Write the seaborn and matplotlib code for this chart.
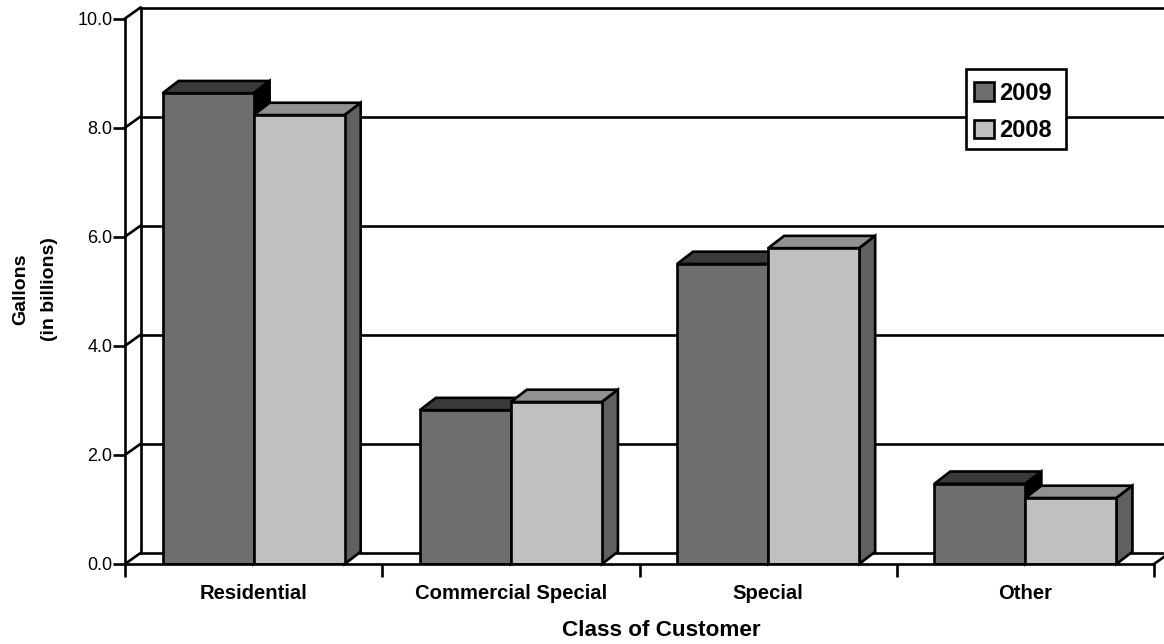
import matplotlib
matplotlib.use("Agg")
import matplotlib.pyplot as plt
import pandas as pd
import seaborn as sns
from matplotlib.patches import Polygon, Rectangle

categories = ["Residential", "Commercial Special", "Special", "Other"]
gallons_2009 = [8.63, 2.82, 5.50, 1.47]
gallons_2008 = [8.23, 2.97, 5.79, 1.21]
y_ticks = [0, 2, 4, 6, 8, 10]

W, H = 1164, 644
FRONT_LEFT, FRONT_RIGHT = 125, 1154
FRONT_TOP, FRONT_BOTTOM = 18.5, 564
WALL_DX_PX, WALL_DY_PX = 15.5, 11
BAR_DX_PX, BAR_DY_PX = 16, 12.3
LW = 1.9

sns.set_theme(style="white", rc={
    "axes.linewidth": LW, "axes.edgecolor": "black", "text.color": "black",
    "xtick.color": "black", "ytick.color": "black", "axes.labelcolor": "black",
})
plt.rcParams["font.family"] = ["Liberation Sans", "DejaVu Sans"]

fig = plt.figure(figsize=(W / 100, H / 100), dpi=100, facecolor="white")
ax = fig.add_axes([
    FRONT_LEFT / W, 1 - FRONT_BOTTOM / H,
    (FRONT_RIGHT - FRONT_LEFT) / W, (FRONT_BOTTOM - FRONT_TOP) / H,
])
ax.patch.set_alpha(0)

df = pd.DataFrame({
    "category": categories * 2,
    "year": ["2009"] * 4 + ["2008"] * 4,
    "gallons": gallons_2009 + gallons_2008,
})
FRONT = {"2009": "#6e6e6e", "2008": "#c0c0c0"}
TOP = {"2009": "#3a3a3a", "2008": "#919191"}
SIDE = {"2009": "#000000", "2008": "#606060"}

sns.barplot(data=df, x="category", y="gallons", hue="year", hue_order=["2009", "2008"],
            palette=FRONT, width=0.708, gap=0, saturation=1, errorbar=None,
            edgecolor="black", linewidth=LW, ax=ax)

ax.set_xlim(-0.5, 3.5)
ax.set_ylim(0, 10)
x_per_px = 4 / (FRONT_RIGHT - FRONT_LEFT)
y_per_px = 10 / (FRONT_BOTTOM - FRONT_TOP)
dx, dy = WALL_DX_PX * x_per_px, WALL_DY_PX * y_per_px
bar_dx, bar_dy = BAR_DX_PX * x_per_px, BAR_DY_PX * y_per_px

# Back wall: gridlines, wall edge and the diagonals joining it to the front axis
line = dict(color="black", lw=LW, clip_on=False, zorder=1, solid_capstyle="projecting")
for v in y_ticks:
    ax.plot([-0.5, -0.5 + dx], [v, v + dy], **line)
    ax.plot([-0.5 + dx, 3.5 + dx], [v + dy, v + dy], **line)
ax.plot([-0.5 + dx, -0.5 + dx], [dy, 10 + dy], **line)
ax.plot([3.5, 3.5 + dx], [0, dy], **line)

# Extrude every bar: the top and side faces come from the bar's own rectangle
for container, year, z in zip(ax.containers, ["2009", "2008"], [3, 4]):
    for bar in container:
        x0, x1 = bar.get_x(), bar.get_x() + bar.get_width()
        h = bar.get_height()
        bar.set_zorder(z + 0.2)
        face = dict(edgecolor="black", lw=LW, joinstyle="miter", clip_on=False, zorder=z)
        ax.add_patch(Polygon([(x0, h), (x1, h), (x1 + bar_dx, h + bar_dy), (x0 + bar_dx, h + bar_dy)],
                             facecolor=TOP[year], **face))
        ax.add_patch(Polygon([(x1, 0), (x1 + bar_dx, bar_dy), (x1 + bar_dx, h + bar_dy), (x1, h)],
                             facecolor=SIDE[year], **face))

# Front axes
sns.despine(ax=ax)
ax.set_yticks(y_ticks, [f"{v:.1f}" for v in y_ticks])
ax.tick_params(axis="y", length=9, width=LW, labelsize=13, pad=0, left=True)
ax.set_xticks(range(len(categories)), categories, fontsize=14.6, fontweight="bold")
ax.set_xticks([-0.5, 0.5, 1.5, 2.5, 3.5], minor=True)
ax.tick_params(axis="x", which="major", length=0, pad=14.5)
ax.tick_params(axis="x", which="minor", length=9, width=LW, bottom=True)
ax.spines["left"].set_zorder(6)
ax.spines["bottom"].set_zorder(6)

ax.set_xlabel("")
ax.set_ylabel("")
fig.text(661 / W, 1 - 630 / H, "Class of Customer", fontsize=16.2, fontweight="bold",
         ha="center", va="center")
fig.text(35 / W, 1 - 289 / H, "Gallons\n(in billions)", fontsize=14, fontweight="bold",
         ha="center", va="center", rotation=90, linespacing=1.85, multialignment="center")

# Legend frame is its own rectangle so the entries can sit at an uneven inset
ax.add_patch(Rectangle((966 / W, 1 - 149 / H), 100 / W, 80 / H, transform=fig.transFigure,
                       facecolor="white", edgecolor="black", lw=LW, clip_on=False, zorder=9))
sns.move_legend(ax, "upper left", bbox_to_anchor=(974 / W, 1 - 81.5 / H),
                bbox_transform=fig.transFigure, title=None, frameon=False, borderaxespad=0,
                handlelength=0.85, handleheight=0.85, handletextpad=0.2,
                labelspacing=0.62, borderpad=0,
                prop={"weight": "bold", "size": 17})
ax.get_legend().set_zorder(10)

fig.savefig("out.png", dpi=100, facecolor="white")
